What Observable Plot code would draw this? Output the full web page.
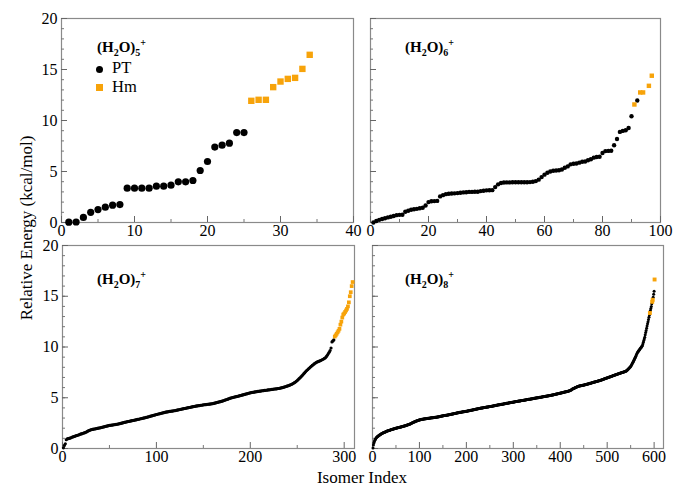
<!DOCTYPE html>
<html><head><meta charset="utf-8">
<script src="https://cdn.jsdelivr.net/npm/d3@7"></script>
<script src="https://cdn.jsdelivr.net/npm/@observablehq/plot@0.6"></script>
<style>
body{margin:0;background:#fff;}
#root{position:relative;width:675px;height:488px;font-family:"Liberation Serif","Times New Roman",Times,"DejaVu Serif",serif;color:#000;overflow:hidden;}
.p{position:absolute;}
.lab{position:absolute;font-weight:bold;font-size:15px;line-height:15px;white-space:nowrap;}
.lab .sb{font-size:10px;position:relative;top:4px;}
.lab .sp{font-size:10px;position:relative;top:-6px;}
.leg{position:absolute;font-size:16.5px;line-height:16px;white-space:nowrap;}
.sw{position:absolute;}
</style></head><body><div id="root"></div>
<script>
// ---- data: relative energy (kcal/mol) by isomer index ----
const pt5 = [0.03,0.05,0.50,1.00,1.27,1.50,1.70,1.76,3.37,3.37,3.37,3.37,3.56,3.56,3.66,3.99,3.99,4.12,5.10,5.98,7.39,7.58,7.78,8.82,8.82];
const hm5Idx = [26,27,28,29,30,31,32,33,34];
const hm5Val = [11.93,12.03,12.03,13.27,13.82,14.08,14.18,15.06,16.44];

const pt6 = [0.00,0.15,0.26,0.35,0.42,0.50,0.56,0.64,0.72,0.75,
 0.76,1.05,1.15,1.25,1.30,1.34,1.40,1.44,1.67,2.00,
 2.08,2.10,2.12,2.56,2.68,2.78,2.82,2.84,2.86,2.88,
 2.91,2.95,2.97,3.00,3.00,3.01,3.02,3.08,3.12,3.15,
 3.16,3.17,3.47,3.74,3.87,3.92,3.93,3.93,3.94,3.94,
 3.94,3.95,3.95,3.95,3.96,4.00,4.06,4.20,4.45,4.69,
 4.88,5.00,5.08,5.10,5.12,5.20,5.37,5.50,5.70,5.76,
 5.78,5.87,5.96,5.98,6.10,6.20,6.36,6.42,6.44,6.81,
 7.00,7.02,7.04,7.57,8.19,8.88,8.98,9.05,9.27,10.42,
 null,11.96];
const hm6Idx = [91,93,94,96,97];
const hm6Val = [11.57,12.75,12.75,13.40,14.39];

const pt7 = [0.07,0.30,0.46,0.86,0.95,0.97,1.00,1.02,1.06,1.11,
 1.14,1.17,1.20,1.24,1.28,1.30,1.33,1.37,1.41,1.44,
 1.47,1.50,1.53,1.57,1.60,1.66,1.72,1.76,1.80,1.84,
 1.86,1.88,1.90,1.92,1.94,1.96,1.98,2.00,2.02,2.04,
 2.06,2.09,2.11,2.13,2.16,2.18,2.20,2.22,2.25,2.27,
 2.28,2.30,2.31,2.33,2.34,2.36,2.37,2.39,2.41,2.43,
 2.45,2.47,2.50,2.52,2.55,2.57,2.59,2.61,2.64,2.66,
 2.68,2.70,2.72,2.74,2.76,2.78,2.80,2.82,2.84,2.86,
 2.88,2.90,2.93,2.95,2.97,2.99,3.01,3.03,3.06,3.08,
 3.11,3.13,3.16,3.19,3.21,3.24,3.27,3.29,3.32,3.35,
 3.37,3.40,3.42,3.44,3.47,3.49,3.51,3.53,3.56,3.58,
 3.60,3.61,3.63,3.65,3.66,3.68,3.69,3.71,3.72,3.74,
 3.76,3.78,3.80,3.82,3.84,3.86,3.88,3.90,3.92,3.94,
 3.96,3.98,4.00,4.02,4.04,4.06,4.08,4.10,4.12,4.14,
 4.16,4.17,4.19,4.20,4.22,4.23,4.25,4.26,4.28,4.30,
 4.31,4.32,4.33,4.35,4.36,4.37,4.38,4.39,4.41,4.42,
 4.44,4.47,4.49,4.52,4.54,4.57,4.59,4.61,4.64,4.66,
 4.70,4.73,4.77,4.80,4.83,4.86,4.89,4.93,4.96,5.00,
 5.02,5.04,5.07,5.09,5.11,5.13,5.15,5.18,5.20,5.22,
 5.25,5.28,5.30,5.33,5.36,5.38,5.41,5.44,5.46,5.49,
 5.51,5.52,5.54,5.55,5.57,5.59,5.60,5.62,5.63,5.65,
 5.66,5.68,5.69,5.70,5.72,5.73,5.74,5.76,5.77,5.78,
 5.79,5.81,5.82,5.83,5.85,5.86,5.87,5.88,5.90,5.91,
 5.93,5.95,5.97,6.00,6.02,6.05,6.08,6.11,6.14,6.17,
 6.20,6.24,6.28,6.32,6.37,6.43,6.49,6.55,6.62,6.70,
 6.79,6.88,6.97,7.06,7.16,7.26,7.37,7.47,7.58,7.68,
 7.76,7.85,7.93,8.02,8.10,8.18,8.25,8.33,8.40,8.47,
 8.51,8.55,8.59,8.63,8.67,8.72,8.77,8.82,8.88,8.93,
 9.05,9.18,9.33,9.48,9.65,9.90,10.50,10.60,10.70];
const hm7Idx = [290,291,292,293,294,295,296,297,298,299,300,301,302,303,304,305,306,307,308,309];
const hm7Val = [11.03,11.15,11.30,11.45,11.60,11.79,12.20,12.50,12.90,13.20,13.30,13.45,13.60,13.76,14.00,14.40,15.00,15.40,16.00,16.40];

const pt8 = [0.05,0.35,0.55,0.70,0.82,0.92,0.99,1.05,1.10,1.15,
 1.19,1.23,1.26,1.30,1.33,1.36,1.39,1.42,1.45,1.48,
 1.50,1.53,1.55,1.57,1.59,1.61,1.63,1.65,1.68,1.70,
 1.72,1.73,1.75,1.77,1.78,1.80,1.81,1.83,1.84,1.86,
 1.87,1.89,1.90,1.92,1.93,1.94,1.96,1.97,1.99,2.00,
 2.01,2.02,2.04,2.05,2.06,2.07,2.08,2.09,2.11,2.12,
 2.13,2.15,2.16,2.17,2.19,2.20,2.21,2.22,2.24,2.25,
 2.27,2.28,2.30,2.32,2.33,2.35,2.37,2.38,2.40,2.42,
 2.45,2.47,2.49,2.51,2.54,2.56,2.58,2.60,2.62,2.64,
 2.66,2.68,2.70,2.72,2.74,2.75,2.77,2.79,2.80,2.82,
 2.83,2.84,2.85,2.86,2.87,2.88,2.89,2.90,2.91,2.91,
 2.92,2.93,2.94,2.94,2.95,2.96,2.96,2.97,2.98,2.99,
 2.99,3.00,3.00,3.01,3.02,3.02,3.03,3.04,3.04,3.05,
 3.06,3.06,3.07,3.08,3.08,3.09,3.10,3.10,3.11,3.12,
 3.13,3.14,3.15,3.16,3.17,3.18,3.19,3.20,3.21,3.22,
 3.23,3.24,3.25,3.26,3.26,3.27,3.28,3.28,3.29,3.30,
 3.31,3.32,3.33,3.34,3.35,3.36,3.37,3.38,3.39,3.40,
 3.41,3.42,3.43,3.44,3.45,3.46,3.47,3.48,3.49,3.50,
 3.51,3.52,3.53,3.54,3.55,3.56,3.56,3.57,3.58,3.59,
 3.60,3.61,3.62,3.62,3.63,3.64,3.65,3.65,3.66,3.67,
 3.68,3.69,3.70,3.71,3.72,3.73,3.74,3.75,3.76,3.77,
 3.78,3.79,3.80,3.81,3.82,3.83,3.84,3.85,3.86,3.87,
 3.88,3.89,3.90,3.91,3.92,3.93,3.94,3.95,3.96,3.97,
 3.98,3.99,4.00,4.00,4.01,4.02,4.03,4.03,4.04,4.05,
 4.06,4.07,4.08,4.09,4.10,4.10,4.11,4.12,4.13,4.14,
 4.14,4.15,4.16,4.17,4.17,4.18,4.19,4.20,4.21,4.22,
 4.23,4.24,4.25,4.26,4.27,4.28,4.29,4.30,4.31,4.31,
 4.32,4.33,4.34,4.35,4.36,4.36,4.37,4.38,4.39,4.40,
 4.41,4.42,4.43,4.44,4.45,4.45,4.46,4.47,4.48,4.49,
 4.50,4.51,4.51,4.52,4.53,4.54,4.55,4.55,4.56,4.57,
 4.58,4.59,4.60,4.61,4.62,4.62,4.63,4.64,4.65,4.66,
 4.67,4.68,4.68,4.69,4.70,4.71,4.72,4.72,4.73,4.74,
 4.75,4.76,4.76,4.77,4.78,4.79,4.80,4.81,4.82,4.82,
 4.83,4.84,4.85,4.85,4.86,4.87,4.88,4.88,4.89,4.90,
 4.91,4.92,4.93,4.94,4.95,4.96,4.97,4.98,4.98,4.99,
 5.00,5.01,5.01,5.02,5.03,5.04,5.04,5.05,5.06,5.07,
 5.08,5.09,5.10,5.11,5.12,5.13,5.13,5.14,5.15,5.16,
 5.17,5.18,5.18,5.19,5.20,5.20,5.21,5.22,5.23,5.24,
 5.25,5.26,5.27,5.28,5.29,5.30,5.31,5.32,5.33,5.34,
 5.36,5.37,5.38,5.39,5.40,5.41,5.42,5.43,5.44,5.46,
 5.47,5.48,5.49,5.50,5.51,5.52,5.53,5.55,5.56,5.57,
 5.58,5.59,5.60,5.61,5.62,5.63,5.65,5.66,5.68,5.70,
 5.72,5.74,5.77,5.80,5.83,5.86,5.88,5.90,5.92,5.95,
 5.97,6.00,6.02,6.04,6.06,6.08,6.10,6.11,6.13,6.15,
 6.16,6.17,6.18,6.19,6.20,6.21,6.22,6.23,6.24,6.25,
 6.26,6.28,6.29,6.30,6.31,6.32,6.34,6.35,6.36,6.38,
 6.39,6.40,6.42,6.43,6.44,6.46,6.47,6.48,6.50,6.51,
 6.52,6.54,6.55,6.56,6.58,6.59,6.60,6.61,6.63,6.64,
 6.65,6.67,6.68,6.70,6.71,6.73,6.74,6.76,6.78,6.80,
 6.81,6.83,6.84,6.86,6.87,6.89,6.91,6.92,6.94,6.96,
 6.98,6.99,7.01,7.03,7.05,7.06,7.08,7.10,7.11,7.13,
 7.15,7.16,7.18,7.20,7.22,7.23,7.25,7.26,7.28,7.30,
 7.31,7.33,7.35,7.36,7.38,7.40,7.41,7.43,7.44,7.46,
 7.48,7.49,7.51,7.52,7.54,7.55,7.57,7.58,7.60,7.62,
 7.66,7.70,7.74,7.79,7.84,7.89,7.94,7.98,8.03,8.08,
 8.16,8.25,8.33,8.42,8.50,8.60,8.70,8.80,8.90,9.00,
 9.10,9.20,9.30,9.40,9.49,9.55,9.62,9.69,9.75,9.82,
 9.88,9.94,10.01,10.08,10.15,10.30,10.46,10.64,10.80,10.97,
 11.20,11.42,11.63,11.85,12.06,12.28,12.50,12.72,12.94,13.15,
 null,13.60,13.80,14.00,14.26,null,null,14.90,15.20,15.50];
const hm8Idx = [591,596,597,601];
const hm8Val = [13.35,14.45,14.65,16.65];

// ---- axis ticks ----
const yMajor = [0,5,10,15,20];
const yMinor = d3.range(0,21,1);
const xTicks5 = [0,10,20,30,40],  xMinor5 = [5,15,25,35];
const xTicks6 = [0,20,40,60,80,100], xMinor6 = [10,30,50,70,90];
const xTicks7 = [0,100,200,300], xMinor7 = [50,150,250];
const xTicks8 = [0,100,200,300,400,500,600], xMinor8 = [50,150,250,350,450,550];

const ORANGE = "#f7a30a";
const FONT = '"Liberation Serif","Times New Roman",Times,"DejaVu Serif",serif';
const root = document.getElementById("root");

function panel(o) {
  const ptData = o.pt.map((e,i)=>({idx:i+1, e})).filter(d=>d.e!=null);
  const hmData = o.hmIdx.map((idx,i)=>({idx, e:o.hmVal[i]}));
  const iw = o.width - o.ml - o.mr, ih = o.height - o.mt - o.mb;
  const marks = [
    Plot.frame({stroke:"#8a8a8a", strokeWidth:1.2}),
    Plot.tickY(yMinor, {y:d=>d, insetRight: iw-3, stroke:"#777"}),
    Plot.tickY(yMajor, {y:d=>d, insetRight: iw-6, stroke:"#666"}),
    Plot.tickX(o.xMinor, {x:d=>d, insetTop: ih-3, stroke:"#777"}),
    Plot.tickX(o.xTicks, {x:d=>d, insetTop: ih-6, stroke:"#666"}),
    Plot.axisX(o.xTicks, {tickSize:0, tickPadding:2, label:null, fontFamily:FONT}),
    o.yLabels ? Plot.axisY(yMajor, {tickSize:0, tickPadding:4, label:null, fontFamily:FONT}) : null,
    Plot.dot(ptData, {x:"idx", y:"e", r:o.rDot, fill:"#000", stroke:"none"}),
    Plot.dot(hmData, {x:"idx", y:"e", r:o.rSq, symbol:"square", fill:ORANGE, stroke:"none"})
  ];
  const chart = Plot.plot({
    width:o.width, height:o.height,
    marginLeft:o.ml, marginRight:o.mr, marginTop:o.mt, marginBottom:o.mb,
    x:{domain:[0,o.xMax], axis:null},
    y:{domain:[0,20], axis:null},
    style:{fontFamily:FONT, fontSize:"16px", background:"transparent", overflow:"visible", color:"#000"},
    marks
  });
  chart.classList.add("p");
  chart.style.left = o.left + "px";
  chart.style.top = o.top + "px";
  root.appendChild(chart);
}

panel({pt:pt5, hmIdx:hm5Idx, hmVal:hm5Val, xMax:40, xTicks:xTicks5, xMinor:xMinor5, yLabels:true,
  left:0, top:0, width:362, height:240, ml:61, mr:9, mt:18, mb:18, rDot:3.6, rSq:3.6});
panel({pt:pt6, hmIdx:hm6Idx, hmVal:hm6Val, xMax:100, xTicks:xTicks6, xMinor:xMinor6, yLabels:false,
  left:362, top:0, width:313, height:240, ml:8, mr:15, mt:18, mb:18, rDot:2.2, rSq:2.5});
panel({pt:pt7, hmIdx:hm7Idx, hmVal:hm7Val, xMax:311, xTicks:xTicks7, xMinor:xMinor7, yLabels:true,
  left:0, top:232, width:362, height:256, ml:62, mr:8, mt:13, mb:40, rDot:1.6, rSq:2.1});
panel({pt:pt8, hmIdx:hm8Idx, hmVal:hm8Val, xMax:620, xTicks:xTicks8, xMinor:xMinor8, yLabels:false,
  left:362, top:232, width:313, height:256, ml:10, mr:12, mt:13, mb:40, rDot:1.5, rSq:2.2});

// ---- text overlays ----
const labels = [
  {n:"5", x:97, y:40}, {n:"6", x:405, y:40}, {n:"7", x:97, y:272}, {n:"8", x:405, y:272}
];
for (const l of labels) {
  const d = document.createElement("div");
  d.className = "lab";
  d.style.left = l.x + "px"; d.style.top = l.y + "px";
  d.innerHTML = `(H<span class="sb">2</span>O)<span class="sb">${l.n}</span><span class="sp">+</span>`;
  root.appendChild(d);
}
root.insertAdjacentHTML("beforeend", `
<div class="sw" style="left:96px;top:65.5px;width:7px;height:7px;border-radius:50%;background:#000"></div>
<div class="leg" style="left:112px;top:60px">PT</div>
<div class="sw" style="left:96px;top:83.5px;width:7px;height:7px;background:${ORANGE}"></div>
<div class="leg" style="left:112px;top:79px">Hm</div>
<div style="position:absolute;left:27px;top:228px;transform:translate(-50%,-50%) rotate(-90deg);font-size:17px;white-space:nowrap">Relative Energy (kcal/mol)</div>
<div style="position:absolute;left:362px;top:478px;transform:translate(-50%,-50%);font-size:17px;white-space:nowrap">Isomer Index</div>
`);
</script></body></html>
